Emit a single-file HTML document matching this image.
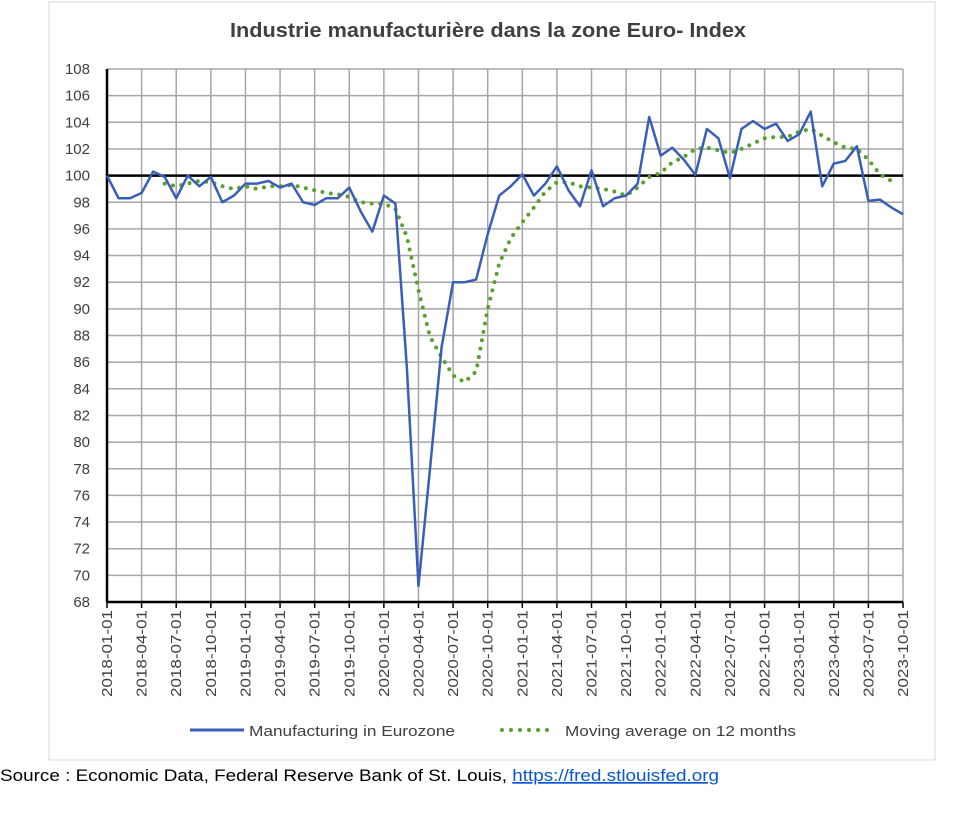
<!DOCTYPE html>
<html><head><meta charset="utf-8"><style>
body{margin:0;background:#fff;width:979px;height:817px;overflow:hidden;font-family:"Liberation Sans",sans-serif}
</style></head><body>
<svg width="979" height="817" viewBox="0 0 979 817" xmlns="http://www.w3.org/2000/svg">
<rect x="49" y="2" width="886" height="758" fill="#fff" stroke="#d9d9d9"/>
<text x="488" y="37" text-anchor="middle" font-size="20" font-weight="bold" fill="#404040" textLength="516" lengthAdjust="spacingAndGlyphs">Industrie manufacturière dans la zone Euro- Index</text>
<g id="grid"></g>
<g id="axes"></g>
<g id="series"></g>
<g>
<line x1="190" y1="730" x2="244" y2="730" stroke="#3a5fb8" stroke-width="3"/>
<text x="249" y="736" font-size="15" fill="#404040" textLength="206" lengthAdjust="spacingAndGlyphs">Manufacturing in Eurozone</text>
<line x1="502" y1="730" x2="556" y2="730" stroke="#5aa02c" stroke-width="4" stroke-dasharray="0 9" stroke-linecap="round"/>
<text x="565" y="736" font-size="15" fill="#404040" textLength="231" lengthAdjust="spacingAndGlyphs">Moving average on 12 months</text>
</g>
<text x="0" y="781" font-size="17" fill="#000" textLength="719" lengthAdjust="spacingAndGlyphs">Source : Economic Data, Federal Reserve Bank of St. Louis, <tspan fill="#0b57d0" text-decoration="underline">https://fred.stlouisfed.org</tspan></text>
</svg>
<script>
const manufacturing=[100,98.3,98.3,98.7,100.3,99.9,98.3,100,99.2,99.9,98,98.5,99.4,99.4,99.6,99.1,99.4,98,97.8,98.3,98.3,99.1,97.3,95.8,98.5,97.9,85.5,69.2,78,87.1,92,92,92.2,95.6,98.5,99.2,100.1,98.5,99.4,100.7,98.9,97.7,100.4,97.7,98.3,98.5,99.4,104.4,101.5,102.1,101.2,100.05,103.5,102.8,99.8,103.5,104.1,103.5,103.9,102.6,103.1,104.8,99.2,100.9,101.1,102.2,98.1,98.2,97.6,97.1];
const movingAvgStart=5;
const movingAverage=[99.4,99.2,99.4,99.6,99.5,99.2,99.0,99.2,99.0,99.2,99.2,99.3,99.1,98.9,98.7,98.6,98.4,98.0,97.9,97.9,97.5,95.4,91.4,87.9,86.4,85.0,84.5,85.3,90.0,93.4,95.3,96.5,97.6,98.8,99.5,99.5,99.2,99.1,99.0,98.8,98.5,99.1,99.9,100.2,101.0,101.4,102.0,102.1,101.9,101.7,102.0,102.4,102.8,102.9,102.9,103.3,103.5,103.0,102.5,102.1,102.0,101.2,100.1,99.6];
const yTicks=[68,70,72,74,76,78,80,82,84,86,88,90,92,94,96,98,100,102,104,106,108];
const xTickLabels=["2018-01-01","2018-04-01","2018-07-01","2018-10-01","2019-01-01","2019-04-01","2019-07-01","2019-10-01","2020-01-01","2020-04-01","2020-07-01","2020-10-01","2021-01-01","2021-04-01","2021-07-01","2021-10-01","2022-01-01","2022-04-01","2022-07-01","2022-10-01","2023-01-01","2023-04-01","2023-07-01","2023-10-01"];
const referenceLevel=100;
const NS="http://www.w3.org/2000/svg";
const L=107,R=903,T=69,B=602,yMin=68,yMax=108,nMonths=69;
const xs=i=>L+i*(R-L)/nMonths;
const ys=v=>B-(v-yMin)*(B-T)/(yMax-yMin);
function mk(tag,attrs,parent,txt){const e=document.createElementNS(NS,tag);for(const k in attrs)e.setAttribute(k,attrs[k]);if(txt!==undefined)e.textContent=txt;parent.appendChild(e);return e;}
const grid=document.getElementById('grid'),axes=document.getElementById('axes'),series=document.getElementById('series');
yTicks.forEach(v=>{
  const g=mk('line',{x1:L,x2:R,y1:ys(v),y2:ys(v),stroke:'#a6a6a6','stroke-width':1.5},grid);
  
  
  const t=mk('text',{x:90,y:ys(v)+5,'text-anchor':'end','font-size':15,fill:'#404040'},axes,String(v));
  
  
});
xTickLabels.forEach((lab,k)=>{
  const x=xs(k*3);
  const g=mk('line',{x1:x,x2:x,y1:T,y2:B,stroke:'#a6a6a6','stroke-width':1.5},grid);
  
  
  const tk=mk('line',{x1:x,x2:x,y1:B,y2:B+6,stroke:'#000','stroke-width':1.5},axes);
  
  
  const t=mk('text',{x:0,y:0,'text-anchor':'end','font-size':15,fill:'#404040',textLength:87,lengthAdjust:'spacingAndGlyphs',transform:`translate(${x+5},${B+8}) rotate(-90)`},axes,lab);
  
  
});
const ya=mk('line',{x1:L,x2:L,y1:T,y2:B,stroke:'#000','stroke-width':2.5},axes);


const xa=mk('line',{x1:L,x2:R,y1:B,y2:B,stroke:'#000','stroke-width':2.5},axes);


const rl=mk('line',{x1:L,x2:R,y1:ys(referenceLevel),y2:ys(referenceLevel),stroke:'#000','stroke-width':2.5},series);


const ma=mk('polyline',{points:movingAverage.map((v,i)=>xs(i+movingAvgStart)+','+ys(v)).join(' '),fill:'none',stroke:'#5aa02c','stroke-width':4,'stroke-dasharray':'0 8.5','stroke-linecap':'round'},series);


const mf=mk('polyline',{points:manufacturing.map((v,i)=>xs(i)+','+ys(v)).join(' '),fill:'none',stroke:'#3a5fb8','stroke-width':2.5,'stroke-linejoin':'round'},series);


</script>
</body></html>
